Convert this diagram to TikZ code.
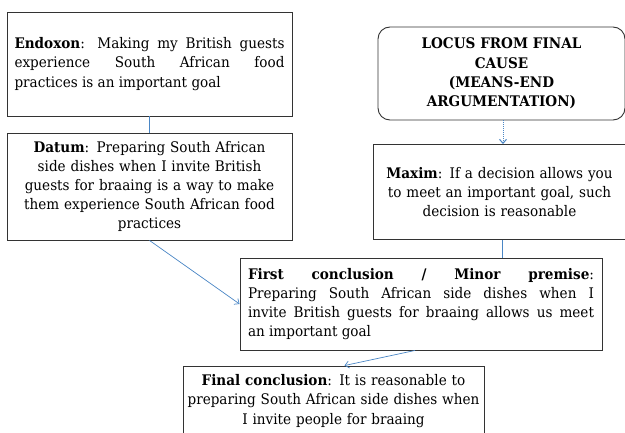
\documentclass[tikz,border=0pt]{standalone}
\usepackage{fontspec}
\setmainfont{DejaVu Serif}[FakeStretch=0.93]
\usetikzlibrary{arrows.meta}
\definecolor{linkblue}{HTML}{4A86C5}
\definecolor{boxline}{HTML}{333333}
\tikzset{
  box/.style={draw=boxline, line width=0.9pt, rectangle, inner sep=0pt,
    font=\fontsize{14.6}{19.2}\selectfont},
  link/.style={draw=linkblue, line width=0.7pt},
  tip/.style={-{Straight Barb[length=4pt,width=7pt]}},
}
\begin{document}
\begin{tikzpicture}[x=1pt,y=-1pt]
\useasboundingbox (0,0) rectangle (625,433);
\node[box, minimum width=285pt, minimum height=104pt, text width=270pt, align=justify] (endoxon) at (149.5,64)
  {\textbf{Endoxon}: Making my British guests\linebreak experience South African food\linebreak practices is an important goal};
\node[box, minimum width=285pt, minimum height=107pt, text width=276pt, align=center] (datum) at (149.5,186.5)
  {\textbf{Datum}: Preparing South African\\ side dishes when I invite British\\ guests for braaing is a way to make\\ them experience South African food\\ practices};
\node[box, rounded corners=12pt, minimum width=247pt, minimum height=93pt, text width=240pt, align=center, font=\fontsize{14.6}{19.2}\selectfont\bfseries] (locus) at (501.5,73.5)
  {LOCUS FROM FINAL\\ CAUSE\\ (MEANS-END\\ ARGUMENTATION)};
\node[box, minimum width=253pt, minimum height=95pt, text width=248pt, align=center] (maxim) at (499.5,192)
  {\textbf{Maxim}: If a decision allows you\\ to meet an important goal, such\\ decision is reasonable};
\node[box, minimum width=362pt, minimum height=92pt, text width=346pt, align=justify] (first) at (421,304)
  {\textbf{First conclusion / Minor premise}:\linebreak Preparing South African side dishes when I\linebreak invite British guests for braaing allows us meet\linebreak an important goal};
\node[box, minimum width=301pt, minimum height=70pt, text width=296pt, align=center] (final) at (333.5,401)
  {\textbf{Final conclusion}: It is reasonable to\\ preparing South African side dishes when\\ I invite people for braaing};
\draw[link] (endoxon.south) -- (datum.north);
\draw[link, tip] (datum.south) -- (first.west);
\draw[link, line width=1pt, tip, dash pattern=on 1pt off 1pt] ([xshift=1.5pt]locus.south) -- ([xshift=1.5pt]locus.south |- maxim.north);
\draw[link] ([xshift=3pt]maxim.south) -- ([xshift=3pt]maxim.south |- first.north);
\draw[link, tip] ([xshift=-6pt]first.south) -- ([xshift=11pt]final.north);
\end{tikzpicture}
\end{document}
